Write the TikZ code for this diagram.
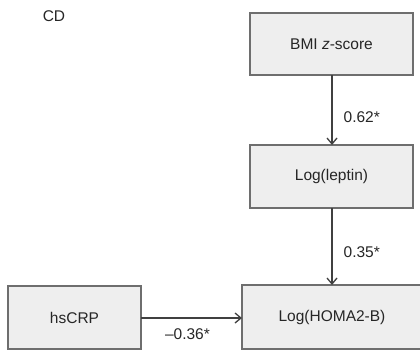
\documentclass[tikz,border=0pt]{standalone}
\usepackage{fontspec}
\setmainfont{Liberation Sans}
\usetikzlibrary{arrows.meta}
\definecolor{boxfill}{HTML}{EEEEEE}
\definecolor{boxline}{HTML}{6E6E6E}
\definecolor{arrowcol}{HTML}{404040}
\tikzset{
  varbox/.style={draw=boxline, fill=boxfill, line width=1.4pt, rectangle, inner sep=0pt, outer sep=0pt,
    font=\fontsize{15.5}{18}\selectfont, text=black!85},
  lbl/.style={font=\fontsize{15.5}{18}\selectfont, inner sep=0pt, text=black!85},
  path/.style={draw=arrowcol, line width=1.3pt, -{Straight Barb[length=6pt,width=10pt,line width=1.3pt]}}
}
\begin{document}
\begin{tikzpicture}[x=1pt,y=-1pt]
\useasboundingbox (0,0) rectangle (420,351);
\node[lbl] (cd) at (54,16) {CD};
\node[varbox, minimum width=163pt, minimum height=62pt] (bmi) at (331.5,44) {BMI \textit{z}-score};
\node[varbox, minimum width=163pt, minimum height=63pt] (lep) at (331.5,176.5) {Log(leptin)};
\node[varbox, minimum width=180pt, minimum height=64pt] (homa) at (332,317) {Log(HOMA2-B)};
\node[varbox, minimum width=133pt, minimum height=63pt] (crp) at (74.5,317.5) {hsCRP};
\draw[path] (bmi.south -| 332,0) -- (lep.north -| 332,0) node[pos=0.6, right=11pt, lbl] (l1) {0.62*};
\draw[path] (lep.south -| 332,0) -- (homa.north -| 332,0) node[pos=0.57, right=11pt, lbl] (l2) {0.35*};
\draw[path] (crp.east |- 0,318) -- (homa.west |- 0,318) node[pos=0.46, below=10pt, lbl] (l3) {--0.36*};
\end{tikzpicture}
\end{document}
